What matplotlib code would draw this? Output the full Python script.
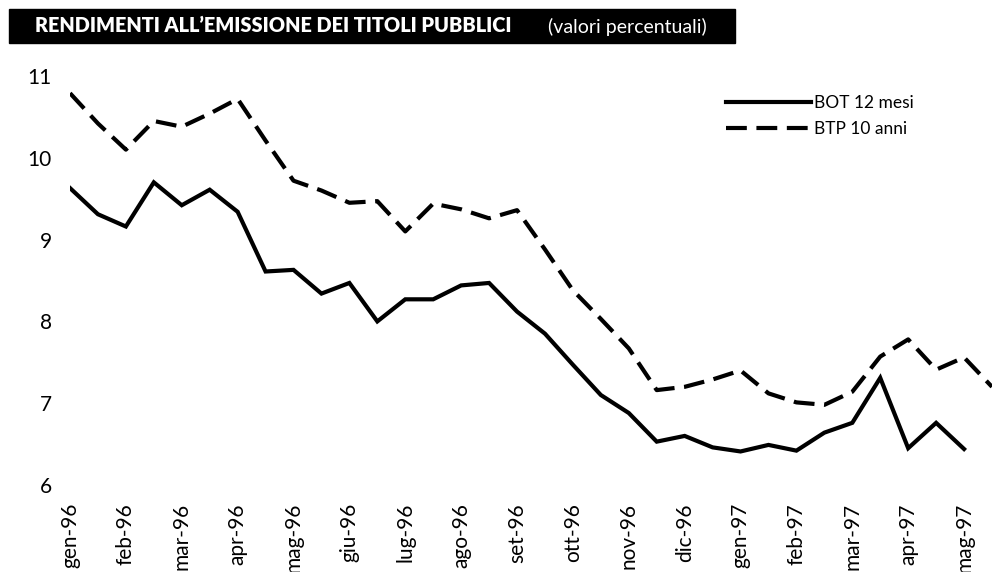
import numpy as np
import matplotlib
matplotlib.use("Agg")
import matplotlib.pyplot as plt
from matplotlib.patches import Rectangle

# rendimenti (valori percentuali), aste quindicinali
bot_12m = [9.63, 9.31, 9.16, 9.70, 9.42, 9.61, 9.34, 8.61, 8.63, 8.34, 8.47,
           8.00, 8.27, 8.27, 8.44, 8.47, 8.12, 7.85, 7.47, 7.10, 6.88, 6.53,
           6.60, 6.46, 6.41, 6.49, 6.42, 6.64, 6.76, 7.31, 6.45, 6.76, 6.44]
btp_10a = [10.79, 10.42, 10.10, 10.45, 10.38, 10.54, 10.72, 10.21, 9.72, 9.60,
           9.45, 9.47, 9.10, 9.44, 9.37, 9.26, 9.36, 8.88, 8.38, 8.03, 7.67,
           7.16, 7.20, 7.29, 7.40, 7.12, 7.01, 6.98, 7.14, 7.57, 7.78, 7.41,
           7.56, 7.20]
mesi = ["gen-96", "feb-96", "mar-96", "apr-96", "mag-96", "giu-96", "lug-96",
        "ago-96", "set-96", "ott-96", "nov-96", "dic-96", "gen-97", "feb-97",
        "mar-97", "apr-97", "mag-97"]
y_ticks = [6, 7, 8, 9, 10, 11]

plt.rcParams['font.family'] = ['Lato', 'DejaVu Sans']

W, H = 1006, 572
fig = plt.figure(figsize=(W / 100, H / 100), dpi=100)
ax = fig.add_axes([70 / W, 1 - 485 / H, (992 - 70) / W, (485 - 76) / H])

x_bot = np.arange(len(bot_12m))
x_btp = np.arange(len(btp_10a))
ax.plot(x_bot, bot_12m, color="black", lw=3.0, solid_joinstyle="miter",
        label="BOT 12 mesi")
ax.plot(x_btp, btp_10a, color="black", lw=3.0, dashes=(5, 2.3),
        dash_capstyle="butt", label="BTP 10 anni")

ax.set_xlim(0, 33)
ax.set_ylim(6, 11)
ax.set_yticks(y_ticks)
ax.set_yticklabels([str(v) for v in y_ticks], fontsize=15)
ax.set_xticks(np.arange(0, 2 * len(mesi), 2))
ax.set_xticklabels(mesi, rotation=90, fontsize=15, va="top", ha="center")
ax.tick_params(axis="y", length=0, pad=13)
ax.tick_params(axis="x", length=0, pad=13)
for s in ax.spines.values():
    s.set_visible(False)

leg = ax.legend(loc="upper left", bbox_to_anchor=((726 - 70) / (992 - 70), 1 - (95 - 76) / (485 - 76)),
                frameon=False, fontsize=12.5, handlelength=4.9, handletextpad=0.15,
                labelspacing=0.6, borderaxespad=0, borderpad=0)

# barra del titolo
fig.patches.append(Rectangle((9 / W, 1 - 43 / H), 726 / W, 34 / H,
                             transform=fig.transFigure, color="black", zorder=0))
fig.text(35 / W, 1 - 26 / H, "RENDIMENTI ALL\u2019EMISSIONE DEI TITOLI PUBBLICI",
         color="white", fontsize=14.3, fontweight="heavy", va="center", ha="left")
fig.text(548 / W, 1 - 27 / H, "(valori percentuali)", color="white",
         fontsize=14, fontweight="normal", va="center", ha="left")

fig.savefig("out.png", dpi=100)
